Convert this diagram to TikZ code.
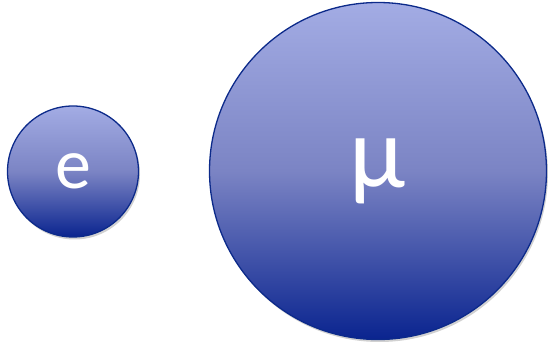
\documentclass[tikz,border=0pt]{standalone}
\usepackage{fontspec}
\setmainfont{Carlito}
\usetikzlibrary{shadows}
\definecolor{topc}{HTML}{A3ACE4}
\definecolor{midc}{HTML}{7B84C4}
\definecolor{botc}{HTML}{0A248F}
\definecolor{edgec}{HTML}{0C2A8A}
\tikzset{
  ball/.style={circle, draw=edgec, line width=1.3pt, inner sep=0pt,
    top color=topc, bottom color=botc, middle color=midc,
    text=white,
    drop shadow={shadow xshift=1.5pt, shadow yshift=-2.5pt, opacity=0.3, fill=black!60}}
}
\begin{document}
\begin{tikzpicture}[x=1pt,y=1pt]
\useasboundingbox (0,0) rectangle (548,342);
\node[ball, minimum size=131pt, font=\fontsize{72}{72}\selectfont] (e) at (73,170.5) {e};
\node[ball, minimum size=337pt, font=\fontsize{102}{102}\selectfont] (mu) at (378,171) {μ};
\end{tikzpicture}
\end{document}
